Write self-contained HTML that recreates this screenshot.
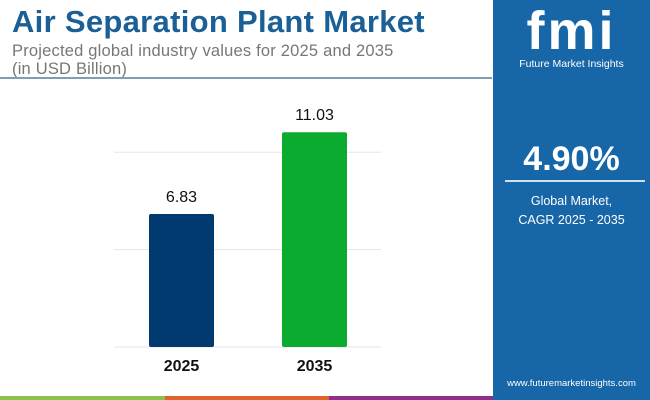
<!DOCTYPE html>
<html><head><meta charset="utf-8"><style>
body{margin:0;width:650px;height:400px;overflow:hidden;background:#fff;font-family:"Liberation Sans",sans-serif;position:relative}
.a{position:absolute}
</style></head><body>
<div class="a" style="left:12px;top:4px;font-size:31px;font-weight:bold;color:#1a5f96;letter-spacing:0.3px">Air Separation Plant Market</div>
<div class="a" style="left:12px;top:42px;font-size:16.5px;line-height:18px;color:#777;letter-spacing:0.2px">Projected global industry values for 2025 and 2035<br>(in USD Billion)</div>
<div class="a" style="left:0;top:77px;width:492px;height:2px;background:#7d9fb0"></div>
<svg class="a" style="left:0;top:0" width="493" height="400" id="c"></svg>
<div class="a" style="left:0;top:396px;width:165px;height:4px;background:#8bc34a"></div>
<div class="a" style="left:165px;top:396px;width:164px;height:4px;background:#e0622e"></div>
<div class="a" style="left:329px;top:396px;width:164px;height:4px;background:#8e2f8a"></div>
<div class="a" style="left:493px;top:0;width:157px;height:400px;background:#1766a8">
 <div class="a" style="left:0;width:157px;top:0px;text-align:center;color:#fff;font-size:54px;font-weight:bold;letter-spacing:3px">fmi</div>
 <div class="a" style="left:0;width:157px;top:58px;text-align:center;color:#fff;font-size:10.5px">Future Market Insights</div>
 <div class="a" style="left:0;width:157px;top:140px;text-align:center;color:#fff;font-size:34px;font-weight:bold">4.90%</div>
 <div class="a" style="left:12px;top:180px;width:140px;height:2px;background:#cfe0f0"></div>
 <div class="a" style="left:0;width:157px;top:192px;text-align:center;color:#fff;font-size:12.5px;line-height:19px">Global Market,<br>CAGR 2025 - 2035</div>
 <div class="a" style="left:0;width:157px;top:378px;text-align:center;color:#fff;font-size:9.5px">www.futuremarketinsights.com</div>
</div>
<script>
const categories=["2025","2035"];
const values=[6.83,11.03];
const labels=["6.83","11.03"];
const colors=["#003a70","#0aab2f"];
const gridVals=[5,10];
const svg=document.getElementById('c');const NS="http://www.w3.org/2000/svg";
const y=v=>347-v*19.47;const x=i=>149+i*133;
function mk(t,a){const e=document.createElementNS(NS,t);for(const k in a)e.setAttribute(k,a[k]);svg.appendChild(e);return e;}
gridVals.forEach(g=>{const l=mk('line',{x1:114,x2:381,y1:y(g),y2:y(g),stroke:'#e6e6e6','stroke-width':1});

});
const b0=mk('line',{x1:114,x2:381,y1:347,y2:347,stroke:'#e6e6e6','stroke-width':1});


values.forEach((v,i)=>{
const r=mk('rect',{x:x(i),y:y(v),width:65,height:347-y(v),fill:colors[i],rx:2});


const t=mk('text',{x:x(i)+32.5,y:y(v)-12,'text-anchor':'middle','font-size':16,fill:'#111','font-family':'Liberation Sans'});t.textContent=labels[i];


const c=mk('text',{x:x(i)+32.5,y:371,'text-anchor':'middle','font-size':16,'font-weight':'bold',fill:'#111','font-family':'Liberation Sans'});c.textContent=categories[i];


});
</script>
</body></html>
